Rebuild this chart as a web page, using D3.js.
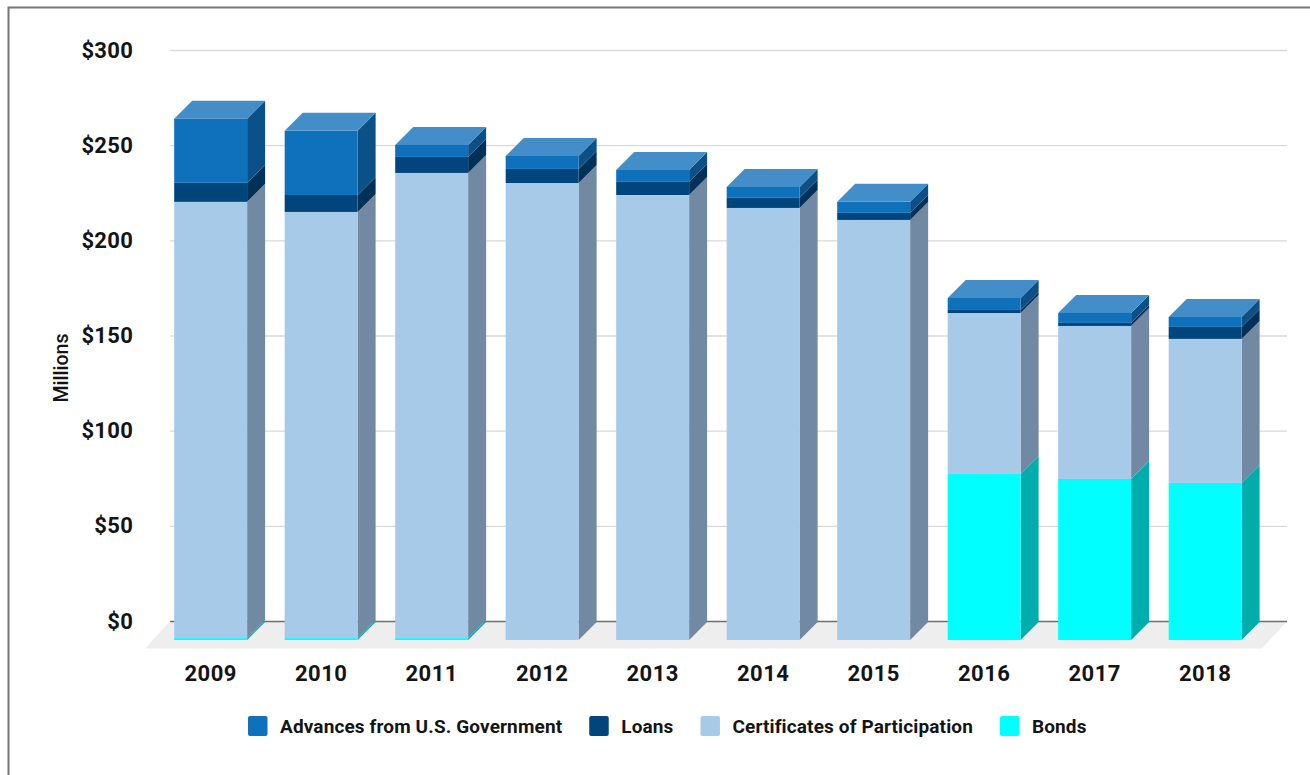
<!DOCTYPE html>
<html>
<head>
<meta charset="utf-8">
<script src="https://cdn.jsdelivr.net/npm/d3@7/dist/d3.min.js"></script>
<style>
  html, body { margin: 0; padding: 0; background: #fff; }
  svg { display: block; font-family: Roboto, sans-serif; }
  text { fill: #141414; }
</style>
</head>
<body>
<svg id="chart" width="1310" height="775"></svg>
<script>
// Outstanding debt by instrument, millions of dollars
const years = ["2009","2010","2011","2012","2013","2014","2015","2016","2017","2018"];
const bonds = [1, 1, 1, 0, 0, 0, 0, 87.2, 84.6, 82.5];
const certificates = [229.2, 223.9, 244.4, 240.1, 233.8, 227, 220.7, 84.6, 80.4, 75.7];
const loans = [10, 8.9, 8.4, 7.4, 6.9, 5.3, 3.7, 1.6, 1.6, 6.3];
const advances = [33.7, 33.7, 6.3, 6.8, 6.3, 5.7, 5.8, 6.3, 5.2, 5.2];
const yTicks = [0, 50, 100, 150, 200, 250, 300];

const stackKeys = ["bonds", "certificates", "loans", "advances"];
const seriesValues = { bonds, certificates, loans, advances };
const legendOrder = ["advances", "loans", "certificates", "bonds"];
const seriesNames = {
  advances: "Advances from U.S. Government",
  loans: "Loans",
  certificates: "Certificates of Participation",
  bonds: "Bonds"
};
const faceColors = {
  advances: { front: "#0f70bc", side: "#0b5086", top: "#438ec9" },
  loans: { front: "#00457c", side: "#003158", top: "#33699a" },
  certificates: { front: "#a8cae9", side: "#7189a2", top: "#bcd6ee" },
  bonds: { front: "#00ffff", side: "#00adad", top: "#66ffff" }
};

const svg = d3.select("#chart");
const depthX = 18, depthY = 18;

const x = d3.scaleBand().domain(years).range([155.4, 1260.4]).paddingInner(0.34).paddingOuter(0.17);
const y = d3.scaleLinear().domain([0, 300]).range([640, 69]);
const yWall = y.copy().range(y.range().map(d => d - 19));

// Frame on the left and top edges
svg.append("path").attr("d", "M8.5,775V7.5H1310").attr("fill", "none").attr("stroke", "#757575").attr("stroke-width", 2);

// Floor of the 3D plot
const wallLeft = x.range()[0] + 14.7, wallRight = 1287;
svg.append("polygon")
  .attr("points", [[wallLeft, yWall(0)], [wallRight, yWall(0)], [wallRight - 25, yWall(0) + 27.5], [wallLeft - 25, yWall(0) + 27.5]].join(" "))
  .attr("fill", "#eeeeee");

// Value axis on the back wall, with its ticks stretched into gridlines
const yAxis = svg.append("g")
  .attr("transform", `translate(${wallLeft},0)`)
  .call(d3.axisLeft(yWall).tickValues(yTicks).tickFormat(d => "$" + d).tickSize(-(wallRight - wallLeft)).tickPadding(37));
yAxis.attr("font-family", null).attr("font-size", null);
yAxis.select(".domain").remove();
yAxis.selectAll("line").attr("stroke", d => d === 0 ? "#6e6e6e" : "#d9d9d9").attr("stroke-width", d => d === 0 ? 1.6 : 1.3);
yAxis.selectAll("text").attr("font-size", 22).attr("font-weight", 700).attr("letter-spacing", 0.3).attr("fill", "#141414").attr("dy", "0.32em");

// Year axis
const xAxis = svg.append("g")
  .attr("transform", "translate(0,662)")
  .call(d3.axisBottom(x).tickSize(0).tickPadding(3));
xAxis.attr("font-family", null).attr("font-size", null);
xAxis.select(".domain").remove();
xAxis.selectAll("text").attr("font-size", 22).attr("font-weight", 700).attr("letter-spacing", 0.5).attr("fill", "#141414");

svg.append("text")
  .attr("transform", "translate(67.5,368) rotate(-90)")
  .attr("text-anchor", "middle")
  .attr("font-size", 19.5)
  .attr("font-weight", 500)
  .text("Millions");

// Stacked 3D columns
const table = years.map((year, i) => {
  const row = { year };
  stackKeys.forEach(k => { row[k] = seriesValues[k][i]; });
  return row;
});
const stacked = d3.stack().keys(stackKeys)(table);
const w = x.bandwidth();

const layers = svg.append("g").selectAll("g").data(stacked).join("g");
layers.each(function (layer, li) {
  const c = faceColors[layer.key];
  const marks = d3.select(this).selectAll("g").data(layer.filter(d => d[1] > d[0])).join("g");
  marks.append("polygon")
    .attr("fill", c.side)
    .attr("points", d => {
      const r = x(d.data.year) + w, y0 = y(d[0]), y1 = y(d[1]);
      return [[r, y0], [r + depthX, y0 - depthY], [r + depthX, y1 - depthY], [r, y1]].join(" ");
    });
  marks.append("rect")
    .attr("fill", c.front)
    .attr("x", d => x(d.data.year))
    .attr("width", w)
    .attr("y", d => y(d[1]))
    .attr("height", d => y(d[0]) - y(d[1]));
  // Only the uppermost layer shows a lid
  if (li === stacked.length - 1) {
    marks.append("polygon")
      .attr("fill", c.top)
      .attr("points", d => {
        const l = x(d.data.year), t = y(d[1]);
        return [[l, t], [l + depthX, t - depthY], [l + w + depthX, t - depthY], [l + w, t]].join(" ");
      });
  }
});

// Legend, laid out from the measured label widths
let cursor = 248;
legendOrder.forEach(key => {
  const item = svg.append("g").attr("transform", `translate(${cursor},0)`);
  item.append("rect").attr("y", 716).attr("width", 19.5).attr("height", 20).attr("rx", 2).attr("fill", faceColors[key].front);
  const label = item.append("text").attr("x", 32).attr("y", 733).attr("font-size", 19).attr("font-weight", 700).attr("letter-spacing", 0.13).text(seriesNames[key]);
  cursor += 32 + label.node().getComputedTextLength() + 27;
});
</script>
</body>
</html>
